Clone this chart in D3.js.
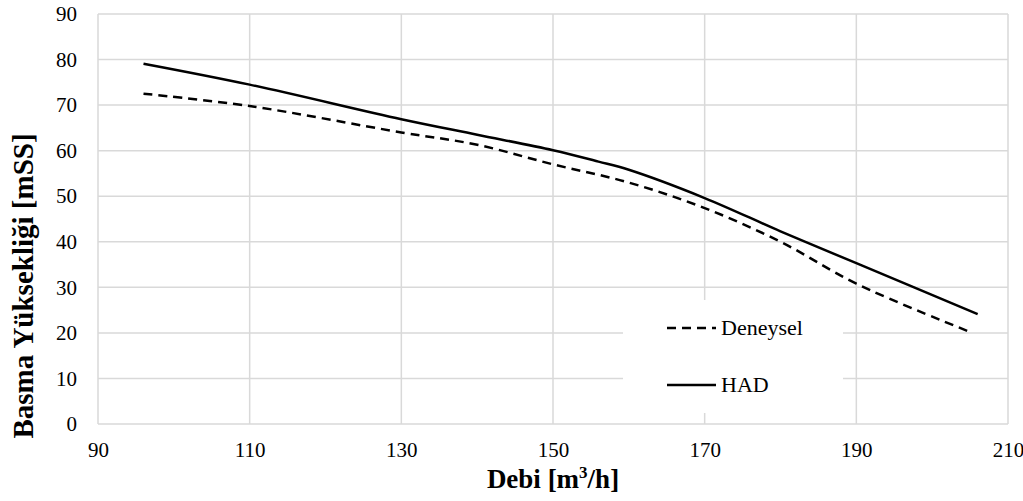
<!DOCTYPE html>
<html>
<head>
<meta charset="utf-8">
<script src="https://cdn.jsdelivr.net/npm/d3@7"></script>
<style>
  body { margin: 0; background: #fff; }
  svg text { font-family: 'Liberation Serif', 'Times New Roman', 'DejaVu Serif', serif; }
</style>
</head>
<body>
<div id="chart"></div>
<script>
// Debi [m3/h] vs Basma Yüksekliği [mSS]
const deneyselDebi = [96, 110, 130, 140, 150, 160, 170, 180, 190, 205];
const deneyselH    = [72.5, 69.8, 64.0, 61.3, 57.0, 53.0, 47.4, 40.0, 30.8, 20.2];

const hadDebi = [96, 110, 130, 140, 150, 156, 160, 170, 180, 190, 206];
const hadH    = [79.1, 74.5, 66.9, 63.5, 60.1, 57.6, 55.8, 49.6, 42.3, 35.3, 24.1];

const xTicks = [90, 110, 130, 150, 170, 190, 210];
const yTicks = [0, 10, 20, 30, 40, 50, 60, 70, 80, 90];

const serif = "'Liberation Serif', 'Times New Roman', 'DejaVu Serif', serif";

const width = 1023, height = 501;
const margin = { top: 14, left: 98 };
const plotW = 1008 - margin.left, plotH = 424 - margin.top;

const svg = d3.select("#chart").append("svg")
  .attr("width", width)
  .attr("height", height)
  .style("font-family", serif);

const g = svg.append("g")
  .attr("transform", `translate(${margin.left},${margin.top})`);

const x = d3.scaleLinear().domain([90, 210]).range([0, plotW]);
const y = d3.scaleLinear().domain([0, 90]).range([plotH, 0]);

// gridlines
g.selectAll(".hgrid")
  .data(yTicks)
  .enter().append("line")
    .attr("x1", 0).attr("x2", plotW)
    .attr("y1", d => y(d)).attr("y2", d => y(d))
    .style("stroke", "#d9d9d9")
    .style("stroke-width", 1.5);

g.selectAll(".vgrid")
  .data(xTicks)
  .enter().append("line")
    .attr("x1", d => x(d)).attr("x2", d => x(d))
    .attr("y1", 0).attr("y2", plotH)
    .style("stroke", "#d9d9d9")
    .style("stroke-width", 1.5);

// axes (labels only, no tick marks)
const xAxis = g.append("g")
  .attr("transform", `translate(0,${plotH})`)
  .call(d3.axisBottom(x).tickValues(xTicks).tickSize(0).tickPadding(18));
xAxis.select(".domain").remove();

const yAxis = g.append("g")
  .call(d3.axisLeft(y).tickValues(yTicks).tickSize(0).tickPadding(21));
yAxis.select(".domain").remove();

svg.selectAll(".tick text")
  .attr("font-family", null)
  .style("font-family", serif)
  .style("font-size", "21px")
  .style("fill", "#000");
xAxis.attr("font-family", null);
yAxis.attr("font-family", null);

// series
const line = d3.line()
  .x(d => x(d[0]))
  .y(d => y(d[1]))
  .curve(d3.curveCatmullRom);

g.append("path")
  .datum(deneyselDebi.map((d, i) => [d, deneyselH[i]]))
  .attr("d", line)
  .style("fill", "none")
  .style("stroke", "#000")
  .style("stroke-width", 2.5)
  .style("stroke-dasharray", "9,6");

g.append("path")
  .datum(hadDebi.map((d, i) => [d, hadH[i]]))
  .attr("d", line)
  .style("fill", "none")
  .style("stroke", "#000")
  .style("stroke-width", 2.5);

// legend
svg.append("rect")
  .attr("x", 623).attr("y", 300)
  .attr("width", 220).attr("height", 113)
  .style("fill", "#fff");

const legendItems = [
  { name: "Deneysel", dash: "9,6", y: 328 },
  { name: "HAD", dash: null, y: 385 }
];

legendItems.forEach(it => {
  svg.append("line")
    .attr("x1", 667).attr("x2", 716)
    .attr("y1", it.y).attr("y2", it.y)
    .style("stroke", "#000")
    .style("stroke-width", 2.5)
    .style("stroke-dasharray", it.dash);
  svg.append("text")
    .attr("x", 721)
    .attr("y", it.y + 7)
    .style("font-size", "22px")
    .text(it.name);
});

// axis titles
svg.append("text")
  .attr("x", 553)
  .attr("y", 488)
  .style("text-anchor", "middle")
  .style("font-weight", "bold")
  .style("font-size", "27px")
  .html("Debi [m<tspan dy='-10' font-size='17px'>3</tspan><tspan dy='10'>/h]</tspan>");

svg.append("text")
  .attr("transform", "rotate(-90)")
  .attr("x", -286)
  .attr("y", 33)
  .style("text-anchor", "middle")
  .style("font-weight", "bold")
  .style("font-size", "29px")
  .text("Basma Yüksekliği [mSS]");
</script>
</body>
</html>
